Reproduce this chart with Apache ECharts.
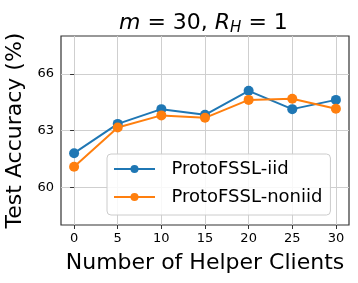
<!DOCTYPE html>
<html><head><meta charset="utf-8">
<script src="https://cdn.jsdelivr.net/npm/echarts@6/dist/echarts.min.js"></script>
<style>html,body{margin:0;padding:0;background:#fff}#c{width:358px;height:283px}</style>
</head><body><div id="c"></div>
<script>
const xValues = [0, 5, 10, 15, 20, 25, 30];
const iidAcc = [61.8, 63.35, 64.13, 63.83, 65.1, 64.13, 64.62];
const noniidAcc = [61.08, 63.16, 63.8, 63.67, 64.62, 64.68, 64.15];
const xTicks = [0, 5, 10, 15, 20, 25, 30];
const yTicks = [60, 63, 66];
const seriesNames = ['ProtoFSSL-iid', 'ProtoFSSL-noniid'];

const F = 'DejaVu Sans';
const chart = echarts.init(document.getElementById('c'), null, {renderer: 'canvas'});
function mk(name, vals, color) {
  return {
    name: name, type: 'line',
    data: xValues.map((x, i) => [x, vals[i]]),
    symbol: 'circle', symbolSize: 10,
    lineStyle: {color: color, width: 2},
    itemStyle: {color: color},
    emphasis: {disabled: true}, animation: false
  };
}
chart.setOption({
  animation: false,
  title: {
    text: '{i|m} = 30, {i|R}{s|H} = 1',
    left: 114, top: 6,
    textStyle: {
      fontFamily: F, fontSize: 22, color: '#000', fontWeight: 'normal',
      rich: {
        i: {fontFamily: F, fontSize: 22, fontStyle: 'italic', color: '#000'},
        s: {fontFamily: F, fontSize: 15, fontStyle: 'italic', color: '#000', verticalAlign: 'bottom', padding: [10, 0, 0, 0]}
      }
    }
  },
  grid: {left: 61, right: 9, top: 36, bottom: 58, outerBoundsMode: 'none', containLabel: false,
         show: true, borderColor: '#333', borderWidth: 1.2, backgroundColor: 'transparent'},
  xAxis: {
    type: 'value', min: -1.5, max: 31.5,
    name: 'Number of Helper Clients', nameLocation: 'middle', nameGap: 27,
    nameTextStyle: {fontFamily: F, fontSize: 22, color: '#000'},
    axisLine: {show: false},
    axisTick: {show: true, customValues: xTicks, length: 4, lineStyle: {color: '#333'}},
    axisLabel: {customValues: xTicks, fontFamily: F, fontSize: 13, color: '#000', margin: 7},
    splitLine: {show: true, lineStyle: {color: '#cfcfcf', width: 1}}
  },
  yAxis: {
    type: 'value', min: 58, max: 68,
    name: 'Test Accuracy (%)', nameLocation: 'middle', nameGap: 32,
    nameTextStyle: {fontFamily: F, fontSize: 22, color: '#000'},
    axisLine: {show: false},
    axisTick: {show: true, customValues: yTicks, length: 4, lineStyle: {color: '#333'}},
    axisLabel: {customValues: yTicks, fontFamily: F, fontSize: 13, color: '#000', margin: 7},
    splitLine: {show: true, lineStyle: {color: '#cfcfcf', width: 1}}
  },
  legend: {
    orient: 'vertical', left: 107, top: 154,
    padding: [5, 8, 8, 6], itemGap: 8,
    itemWidth: 41, itemHeight: 10,
    backgroundColor: 'rgba(255,255,255,0.85)', borderColor: '#cccccc', borderWidth: 1, borderRadius: 4,
    formatter: function (n) { return '  ' + n; },
    textStyle: {fontFamily: F, fontSize: 18, lineHeight: 20, color: '#000'},
    data: seriesNames
  },
  series: [mk(seriesNames[0], iidAcc, '#1f77b4'), mk(seriesNames[1], noniidAcc, '#ff7f0e')]
});
</script></body></html>
